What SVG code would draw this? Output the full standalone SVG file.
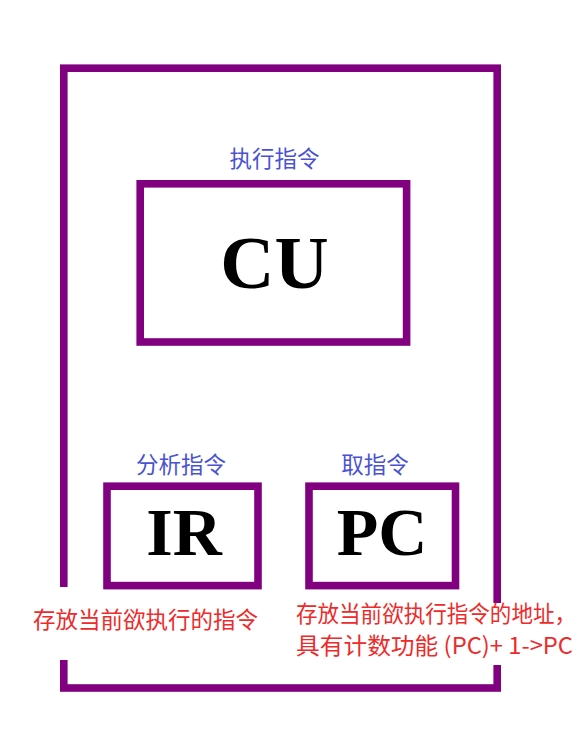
<svg xmlns="http://www.w3.org/2000/svg" width="585" height="747" viewBox="0 0 585 747">
<style>
.box{fill:none;stroke:#800080;stroke-width:7.6}
.big{font-family:"Liberation Serif","Times New Roman",serif;font-weight:bold;fill:#000;text-anchor:middle}
.blue{font-family:"Noto Sans CJK SC","Microsoft YaHei",sans-serif;font-size:22.5px;fill:#4a52d2;text-anchor:middle}
.red{font-family:"Noto Sans CJK SC","Microsoft YaHei",sans-serif;font-size:23px;fill:#ee2a2a}
.bg{fill:#fff}
</style>
<rect width="585" height="747" fill="#fff"/>
<g id="outer">
<rect class="box" x="63.8" y="68.2" width="433.4" height="619.8"/>
</g>
<g id="note-ir">
<rect class="bg" x="24" y="587" width="244" height="73"/>
<text class="red" x="33" y="628" textLength="225" lengthAdjust="spacingAndGlyphs">存放当前欲执行的指令</text>
</g>
<g id="note-pc">
<rect class="bg" x="288" y="603" width="294" height="62"/>
<text class="red" x="296" y="622" textLength="280" lengthAdjust="spacingAndGlyphs">存放当前欲执行指令的地址，</text>
<text class="red" x="296" y="654" textLength="277" lengthAdjust="spacingAndGlyphs">具有计数功能 (PC)+ 1-&gt;PC</text>
</g>
<g id="CU">
<rect class="box" x="140.2" y="183.8" width="266.4" height="158.2"/>
<text class="big" x="274.5" y="288" font-size="75">CU</text>
<text class="blue" x="274.5" y="167">执行指令</text>
</g>
<g id="IR">
<rect class="box" x="107" y="486.2" width="151" height="99.4"/>
<text class="big" x="184" y="555" font-size="68">IR</text>
<text class="blue" x="181" y="473">分析指令</text>
</g>
<g id="PC">
<rect class="box" x="309" y="486.2" width="146.5" height="99.4"/>
<text class="big" x="382" y="555" font-size="68">PC</text>
<text class="blue" x="375" y="473">取指令</text>
</g>
<g id="connectors"></g>
</svg>
